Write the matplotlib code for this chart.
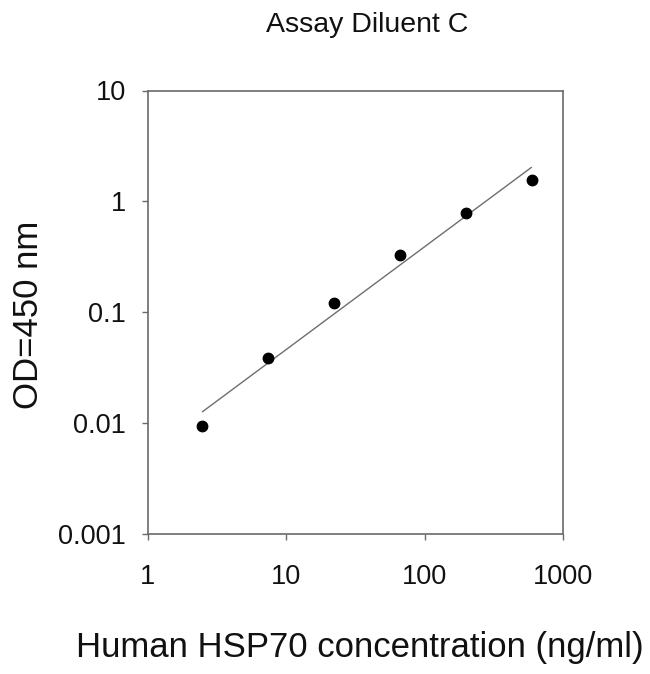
import matplotlib
matplotlib.use("Agg")
import matplotlib.pyplot as plt

plt.rcParams['font.family'] = ['Liberation Sans', 'DejaVu Sans']

# Standard curve points (concentration in ng/ml, OD at 450 nm)
conc = [2.47, 7.41, 22.2, 66.7, 200, 600]
od = [0.0094, 0.0385, 0.122, 0.327, 0.79, 1.55]

# Trend line end points
fit_x = [2.5, 590]
fit_y = [0.0127, 2.02]

x_ticks = [1, 10, 100, 1000]
x_labels = ['1', '10', '100', '1000']
y_ticks = [0.001, 0.01, 0.1, 1, 10]
y_labels = ['0.001', '0.01', '0.1', '1', '10']

W, H = 650, 674
fig = plt.figure(figsize=(6.5, 6.74), dpi=100)
ax = fig.add_axes([147.5 / W, 1 - 534 / H, 415.5 / W, 443.5 / H])

ax.plot(fit_x, fit_y, color='#6e6e6e', linewidth=1.0)
ax.plot(conc, od, 'o', color='black', markersize=7.5)

ax.set_xscale('log')
ax.set_yscale('log')
ax.set_xlim(1, 1000)
ax.set_ylim(0.001, 10)
ax.set_xticks(x_ticks)
ax.set_xticklabels(x_labels)
ax.set_yticks(y_ticks)
ax.set_yticklabels(y_labels)
ax.minorticks_off()

for s in ax.spines.values():
    s.set_color('#6a6a6a')
    s.set_linewidth(1.2)
ax.tick_params(axis='x', direction='out', length=4.3, width=1.0, color='#6a6a6a',
               labelsize=19.5, labelcolor='#111111', pad=17)
ax.tick_params(axis='y', direction='out', length=4.3, width=1.0, color='#6a6a6a',
               labelsize=19.5, labelcolor='#111111', pad=11)

# Titles placed in figure pixels, as in the reference
fig.text(367 / W, 1 - 32 / H, 'Assay Diluent C', ha='center', va='baseline',
         fontsize=20.5, color='#111111')
fig.text(360 / W, 1 - 657 / H, 'Human HSP70 concentration (ng/ml)', ha='center',
         va='baseline', fontsize=25, color='#111111')
fig.text(38 / W, 1 - 315 / H, 'OD=450 nm', ha='center', va='baseline', rotation=90,
         rotation_mode='anchor', fontsize=25, color='#111111')

fig.savefig('out.png', dpi=100)
